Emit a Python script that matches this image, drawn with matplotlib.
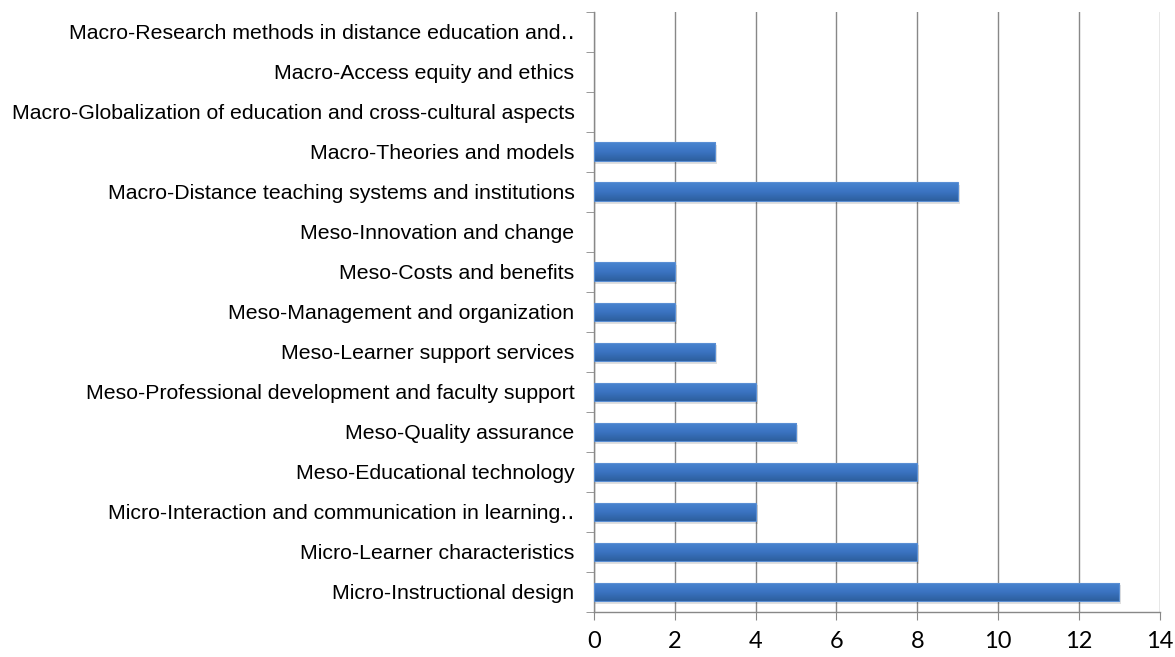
import numpy as np
import matplotlib
matplotlib.use("Agg")
import matplotlib.pyplot as plt
from matplotlib.colors import LinearSegmentedColormap

# Categories listed bottom to top
categories = [
    "Micro-Instructional design",
    "Micro-Learner characteristics",
    "Micro-Interaction and communication in learning\u2025",
    "Meso-Educational technology",
    "Meso-Quality assurance",
    "Meso-Professional development and faculty support",
    "Meso-Learner support services",
    "Meso-Management and organization",
    "Meso-Costs and benefits",
    "Meso-Innovation and change",
    "Macro-Distance teaching systems and institutions",
    "Macro-Theories and models",
    "Macro-Globalization of education and cross-cultural aspects",
    "Macro-Access equity and ethics",
    "Macro-Research methods in distance education and\u2025",
]
counts = [13, 8, 4, 8, 5, 4, 3, 2, 2, 0, 9, 3, 0, 0, 0]
x_ticks = [0, 2, 4, 6, 8, 10, 12, 14]

fig = plt.figure(figsize=(11.75, 6.57), dpi=100)
ax = fig.add_axes([0.5055, 0.0685, 0.4815, 0.9135])

y = np.arange(len(categories))
bar_h = 0.47
grad = LinearSegmentedColormap.from_list("bar", ["#4a86d0", "#3b74c2", "#2d5f9e"])

for yi, v in zip(y, counts):
    if v <= 0:
        continue
    # soft shadow
    ax.barh(yi - 0.06, v + 0.05, height=bar_h, color="#000000", alpha=0.12,
            linewidth=0, zorder=2)
    # gradient fill clipped to the bar (lighter on top, darker below)
    bar = ax.barh(yi, v, height=bar_h, color="none", edgecolor="#5a8fd4",
                  linewidth=0.8, zorder=4)[0]
    img = ax.imshow(np.linspace(0, 1, 50).reshape(-1, 1), cmap=grad,
                    aspect="auto", origin="upper",
                    extent=(0, v, yi - bar_h / 2, yi + bar_h / 2), zorder=3)
    img.set_clip_path(bar)

ax.set_xlim(0, 14)
ax.set_ylim(-0.5, len(categories) - 0.5)
ax.set_xticks(x_ticks)
ax.set_xticklabels([str(t) for t in x_ticks], family=["Lato", "DejaVu Sans"],
                   fontsize=17)
ax.set_yticks(y)
ax.set_yticklabels(categories, family=["Liberation Sans", "DejaVu Sans"],
                   fontsize=15.3)
ax.set_yticks(np.arange(-0.5, len(categories), 1.0), minor=True)

ax.tick_params(axis="y", which="major", length=0, pad=14)
ax.tick_params(axis="y", which="minor", length=6, color="#888888", direction="out")
ax.tick_params(axis="x", which="major", length=6, color="#888888", direction="out",
               pad=8)

ax.grid(axis="x", color="#888888", linewidth=1.0, zorder=0)
ax.set_axisbelow(True)
for side in ("top", "right"):
    ax.spines[side].set_visible(False)
for side in ("left", "bottom"):
    ax.spines[side].set_color("#888888")
    ax.spines[side].set_linewidth(1.0)

fig.savefig("out.png", dpi=100)
